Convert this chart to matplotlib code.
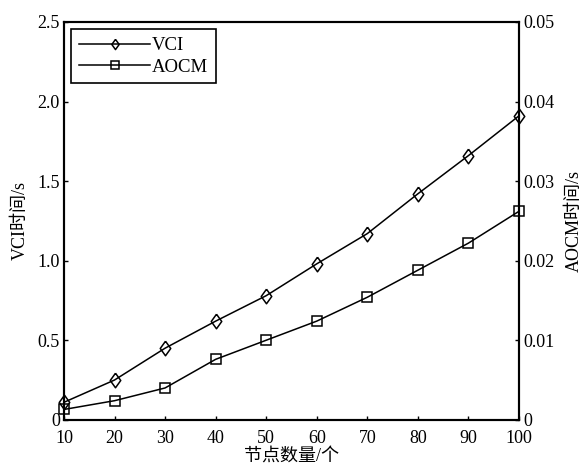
import matplotlib
matplotlib.use("Agg")
import matplotlib.pyplot as plt

plt.rcParams['font.family'] = ['Liberation Serif', 'Noto Sans CJK SC']
plt.rcParams['axes.unicode_minus'] = False

nodes = [10, 20, 30, 40, 50, 60, 70, 80, 90, 100]
vci_time = [0.11, 0.25, 0.45, 0.62, 0.78, 0.98, 1.17, 1.42, 1.66, 1.91]
aocm_time = [0.0013, 0.0024, 0.0040, 0.0076, 0.0100, 0.0124, 0.0154, 0.0188, 0.0222, 0.0262]

left_ticks = [0, 0.5, 1.0, 1.5, 2.0, 2.5]
left_labels = ['0', '0.5', '1.0', '1.5', '2.0', '2.5']
right_ticks = [0, 0.01, 0.02, 0.03, 0.04, 0.05]
right_labels = ['0', '0.01', '0.02', '0.03', '0.04', '0.05']

fig = plt.figure(figsize=(5.87, 4.68), dpi=100)
ax = fig.add_axes([0.109, 0.103, 0.775, 0.850])
ax2 = ax.twinx()

# slim diamond, a bit wider than matplotlib's 'd'
diamond = [(0, 1), (0.72, 0), (0, -1), (-0.72, 0), (0, 1)]

l1, = ax.plot(nodes, vci_time, color='black', lw=1.1, marker=diamond, markersize=10.5,
              markerfacecolor='none', markeredgewidth=1.1, label='VCI', clip_on=False)
l2, = ax2.plot(nodes, aocm_time, color='black', lw=1.1, marker='s', markersize=7.5,
               markerfacecolor='none', markeredgewidth=1.1, label='AOCM', clip_on=False)

ax.set_xlim(10, 100)
ax.set_ylim(0, 2.5)
ax2.set_ylim(0, 0.05)
ax.set_xticks(nodes)
ax.set_xticklabels([str(n) for n in nodes], fontsize=13)
ax.set_yticks(left_ticks)
ax.set_yticklabels(left_labels, fontsize=13)
ax2.set_yticks(right_ticks)
ax2.set_yticklabels(right_labels, fontsize=13)

for a in (ax, ax2):
    a.tick_params(direction='in', length=3, width=1, pad=3)
    for s in a.spines.values():
        s.set_linewidth(1.5)
ax.tick_params(axis='x', pad=7)

ax.set_xlabel('节点数量/个', fontsize=13, labelpad=1)
ax.set_ylabel('VCI时间/s', fontsize=13, labelpad=6)
ax2.set_ylabel('AOCM时间/s', fontsize=13, labelpad=8)

leg = ax.legend(handles=[l1, l2], loc='upper left', fontsize=13.5, fancybox=False,
                edgecolor='black', framealpha=1, borderaxespad=0.4, markerscale=0.7,
                handlelength=3.8, labelspacing=0.25, borderpad=0.4, handletextpad=0.1)
leg.get_frame().set_linewidth(1.2)

fig.savefig('out.png', dpi=100)
